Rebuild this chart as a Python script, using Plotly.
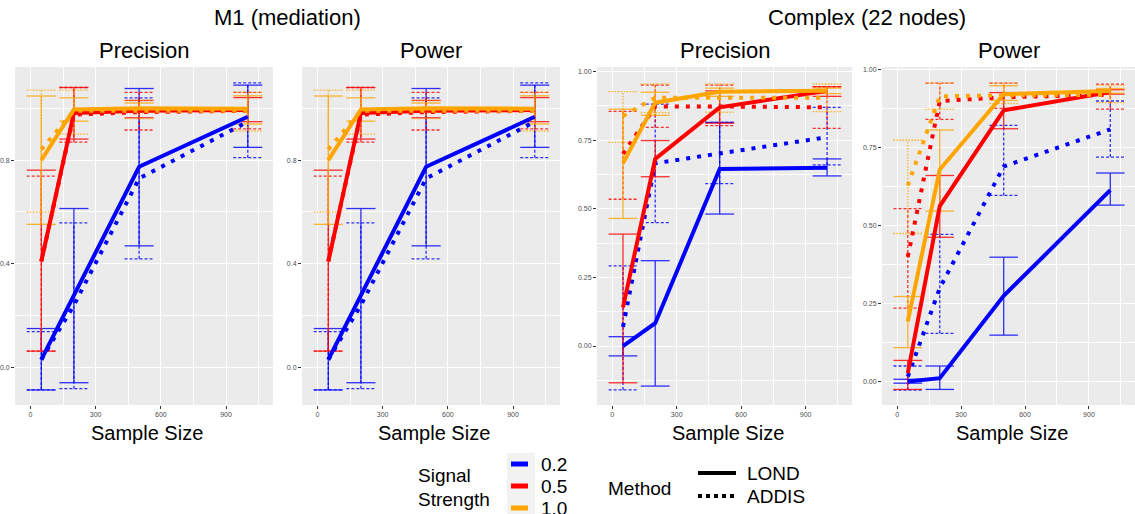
import plotly.graph_objects as go

# ---------------- data ----------------
X = [50, 200, 500, 1000]
STRENGTHS = ["0.2", "0.5", "1.0"]
COLORS = ["#0000FF", "#FF0000", "#FFA500"]
METHODS = ["LOND", "ADDIS"]
GROUP_TITLES = ["M1 (mediation)", "Complex (22 nodes)"]
PANEL_TITLES = ["Precision", "Power", "Precision", "Power"]
X_TITLE = "Sample Size"

# M1 (mediation) - Precision ; rows = signal strength 0.2, 0.5, 1.0
m1_prec_lond_mean = [[0.03, 0.28, 0.774, 0.967], [0.408, 0.982, 0.99, 0.993], [0.80, 0.995, 1.0, 0.998]]
m1_prec_lond_lo = [[-0.087, -0.059, 0.469, 0.849], [0.063, 0.881, 0.963, 0.948], [0.552, 0.95, 0.985, 0.939]]
m1_prec_lond_hi = [[0.15, 0.613, 1.076, 1.089], [0.761, 1.08, 1.03, 1.041], [1.047, 1.04, 1.02, 1.048]]
m1_prec_addis_mean = [[0.03, 0.24, 0.729, 0.948], [0.41, 0.975, 0.985, 0.99], [0.841, 0.99, 0.99, 0.99]]
m1_prec_addis_lo = [[-0.087, -0.082, 0.419, 0.809], [0.063, 0.869, 0.916, 0.92], [0.60, 0.90, 0.96, 0.912]]
m1_prec_addis_hi = [[0.138, 0.558, 1.04, 1.098], [0.738, 1.08, 1.061, 1.061], [1.07, 1.07, 1.03, 1.061]]

# M1 (mediation) - Power
m1_pow_lond_mean = [[0.03, 0.28, 0.774, 0.967], [0.408, 0.982, 0.99, 0.993], [0.80, 0.995, 1.0, 0.998]]
m1_pow_lond_lo = [[-0.087, -0.059, 0.469, 0.849], [0.063, 0.881, 0.963, 0.948], [0.552, 0.95, 0.985, 0.939]]
m1_pow_lond_hi = [[0.15, 0.613, 1.076, 1.089], [0.761, 1.08, 1.03, 1.041], [1.047, 1.04, 1.02, 1.048]]
m1_pow_addis_mean = [[0.03, 0.24, 0.729, 0.948], [0.41, 0.975, 0.985, 0.99], [0.841, 0.99, 0.99, 0.99]]
m1_pow_addis_lo = [[-0.087, -0.082, 0.419, 0.809], [0.063, 0.869, 0.916, 0.92], [0.60, 0.90, 0.96, 0.912]]
m1_pow_addis_hi = [[0.138, 0.558, 1.04, 1.098], [0.738, 1.08, 1.061, 1.061], [1.07, 1.07, 1.03, 1.061]]

# Complex (22 nodes) - Precision
cx_prec_lond_mean = [[0.0, 0.083, 0.645, 0.65], [0.141, 0.682, 0.87, 0.93], [0.666, 0.887, 0.927, 0.93]]
cx_prec_lond_lo = [[-0.036, -0.146, 0.481, 0.62], [-0.134, 0.617, 0.812, 0.91], [0.465, 0.841, 0.91, 0.92]]
cx_prec_lond_hi = [[0.034, 0.311, 0.815, 0.682], [0.408, 0.749, 0.93, 0.945], [0.863, 0.925, 0.94, 0.94]]
cx_prec_addis_mean = [[0.07, 0.666, 0.702, 0.761], [0.70, 0.873, 0.873, 0.87], [0.838, 0.905, 0.905, 0.905]]
cx_prec_addis_lo = [[-0.16, 0.45, 0.592, 0.66], [0.535, 0.797, 0.803, 0.793], [0.742, 0.851, 0.852, 0.854]]
cx_prec_addis_hi = [[0.292, 0.882, 0.815, 0.87], [0.855, 0.951, 0.951, 0.945], [0.927, 0.955, 0.955, 0.955]]

# Complex (22 nodes) - Power
cx_pow_lond_mean = [[0.0, 0.011, 0.275, 0.614], [0.027, 0.563, 0.87, 0.929], [0.193, 0.68, 0.922, 0.932]]
cx_pow_lond_lo = [[-0.005, -0.025, 0.149, 0.566], [-0.025, 0.463, 0.811, 0.922], [0.109, 0.547, 0.902, 0.925]]
cx_pow_lond_hi = [[0.0075, 0.05, 0.399, 0.669], [0.068, 0.661, 0.927, 0.936], [0.273, 0.807, 0.949, 0.94]]
cx_pow_addis_mean = [[0.016, 0.30, 0.69, 0.809], [0.40, 0.90, 0.912, 0.92], [0.629, 0.915, 0.918, 0.92]]
cx_pow_addis_lo = [[-0.027, 0.155, 0.597, 0.72], [0.236, 0.841, 0.876, 0.874], [0.475, 0.874, 0.892, 0.895]]
cx_pow_addis_hi = [[0.05, 0.472, 0.822, 0.90], [0.555, 0.957, 0.957, 0.954], [0.774, 0.957, 0.957, 0.95]]

PANELS = [
    (m1_prec_lond_mean, m1_prec_lond_lo, m1_prec_lond_hi, m1_prec_addis_mean, m1_prec_addis_lo, m1_prec_addis_hi),
    (m1_pow_lond_mean, m1_pow_lond_lo, m1_pow_lond_hi, m1_pow_addis_mean, m1_pow_addis_lo, m1_pow_addis_hi),
    (cx_prec_lond_mean, cx_prec_lond_lo, cx_prec_lond_hi, cx_prec_addis_mean, cx_prec_addis_lo, cx_prec_addis_hi),
    (cx_pow_lond_mean, cx_pow_lond_lo, cx_pow_lond_hi, cx_pow_addis_mean, cx_pow_addis_lo, cx_pow_addis_hi),
]

# ---------------- layout geometry ----------------
W, H = 1135, 514
PX_X = [(15, 273), (302, 560), (597, 852), (882, 1135)]
PX_Y = (67, 405)
Y_RANGES = [(-0.145, 1.159), (-0.145, 1.159), (-0.215, 1.017), (-0.075, 1.009)]
X_RANGE = (-71, 1116)
Y_DTICK = [0.4, 0.4, 0.25, 0.25]
Y_FMT = [".1f", ".1f", ".2f", ".2f"]
CAP = 67  # half-width of error bar caps (data units)

FONT = "Liberation Sans, Arial, sans-serif"

fig = go.Figure()


def errbar_xy(xs, lo, hi):
    ex, ey = [], []
    for x, l, h in zip(xs, lo, hi):
        ex += [x, x, None, x - CAP, x + CAP, None, x - CAP, x + CAP, None]
        ey += [l, h, None, l, l, None, h, h, None]
    return ex, ey


for p, data in enumerate(PANELS):
    lm, ll, lh, am, al, ah = data
    xa = "x" if p == 0 else f"x{p+1}"
    ya = "y" if p == 0 else f"y{p+1}"
    # error bars
    for s in range(3):
        ex, ey = errbar_xy(X, al[s], ah[s])
        dash = "1.5px,1.5px" if s == 2 else "3px,2px"
        fig.add_trace(go.Scatter(x=ex, y=ey, mode="lines", xaxis=xa, yaxis=ya,
                                 line=dict(color=COLORS[s], width=1.3, dash=dash),
                                 opacity=0.8, showlegend=False, hoverinfo="skip"))
        ex, ey = errbar_xy(X, ll[s], lh[s])
        fig.add_trace(go.Scatter(x=ex, y=ey, mode="lines", xaxis=xa, yaxis=ya,
                                 line=dict(color=COLORS[s], width=1.3),
                                 opacity=0.8, showlegend=False, hoverinfo="skip"))
    # lines
    for s in range(3):
        fig.add_trace(go.Scatter(x=X, y=am[s], mode="lines", xaxis=xa, yaxis=ya,
                                 line=dict(color=COLORS[s], width=4, dash="4px,7px"),
                                 showlegend=False, name=f"{STRENGTHS[s]} ADDIS"))
        fig.add_trace(go.Scatter(x=X, y=lm[s], mode="lines", xaxis=xa, yaxis=ya,
                                 line=dict(color=COLORS[s], width=4),
                                 showlegend=False, name=f"{STRENGTHS[s]} LOND"))

layout = dict(
    width=W, height=H,
    margin=dict(l=0, r=0, t=0, b=0),
    paper_bgcolor="white",
    plot_bgcolor="#EBEBEB",
    font=dict(family=FONT, color="black"),
    showlegend=False,
)

for p in range(4):
    xk = "xaxis" if p == 0 else f"xaxis{p+1}"
    yk = "yaxis" if p == 0 else f"yaxis{p+1}"
    x0, x1 = PX_X[p]
    dom_x = [x0 / W, x1 / W]
    dom_y = [1 - PX_Y[1] / H, 1 - PX_Y[0] / H]
    ya = "y" if p == 0 else f"y{p+1}"
    xa = "x" if p == 0 else f"x{p+1}"
    layout[xk] = dict(domain=dom_x, anchor=ya, range=list(X_RANGE), tick0=0, dtick=300,
                      showgrid=True, gridcolor="white", gridwidth=1.1, zeroline=False,
                      ticks="outside", ticklen=3, tickcolor="#333333", tickwidth=1,
                      tickfont=dict(size=7, color="#4D4D4D"), showline=False,
                      minor=dict(dtick=150, tick0=0, showgrid=True, gridcolor="white", gridwidth=0.6, ticks=""))
    layout[yk] = dict(domain=dom_y, anchor=xa, range=list(Y_RANGES[p]), tick0=0, dtick=Y_DTICK[p],
                      tickformat=Y_FMT[p],
                      showgrid=True, gridcolor="white", gridwidth=1.1, zeroline=False,
                      ticks="outside", ticklen=3, tickcolor="#333333", tickwidth=1,
                      tickfont=dict(size=7, color="#4D4D4D"), showline=False,
                      minor=dict(dtick=Y_DTICK[p] / 2, tick0=0, showgrid=True, gridcolor="white", gridwidth=0.6, ticks=""))

fig.update_layout(**layout)

ann = []


def add_text(text, px, py, size, xanchor="center", yanchor="middle"):
    ann.append(dict(text=text, x=px / W, y=1 - py / H, xref="paper", yref="paper",
                    showarrow=False, xanchor=xanchor, yanchor=yanchor,
                    font=dict(size=size, family=FONT, color="black")))


add_text(GROUP_TITLES[0], 287, 18, 22)
add_text(GROUP_TITLES[1], 867, 18, 22)
for p in range(4):
    cx = (PX_X[p][0] + PX_X[p][1]) / 2
    add_text(PANEL_TITLES[p], cx, 51, 22)
    add_text(X_TITLE, cx + 3, 433, 20)

# legend: Signal Strength
add_text("Signal", 416, 475, 19, xanchor="left")
add_text("Strength", 416, 499, 19, xanchor="left")
shapes = [dict(type="rect", xref="paper", yref="paper", x0=507 / W, x1=535 / W, y0=-0.05, y1=1 - 453 / H,
               fillcolor="#F2F2F2", line=dict(width=0), layer="above")]
key_y = [464, 486, 508]
for s in range(3):
    shapes.append(dict(type="line", xref="paper", yref="paper", x0=511 / W, x1=528 / W,
                       y0=1 - key_y[s] / H, y1=1 - key_y[s] / H,
                       line=dict(color=COLORS[s], width=5), layer="above"))
    add_text(STRENGTHS[s], 539, key_y[s], 19, xanchor="left")

# legend: Method
add_text("Method", 606, 488, 19, xanchor="left")
shapes.append(dict(type="line", xref="paper", yref="paper", x0=698 / W, x1=736 / W,
                   y0=1 - 473 / H, y1=1 - 473 / H, line=dict(color="black", width=4), layer="above"))
shapes.append(dict(type="line", xref="paper", yref="paper", x0=698 / W, x1=736 / W,
                   y0=1 - 496 / H, y1=1 - 496 / H, line=dict(color="black", width=4, dash="4px,4px"), layer="above"))
add_text(METHODS[0], 745, 473, 19, xanchor="left")
add_text(METHODS[1], 745, 496, 19, xanchor="left")

fig.update_layout(annotations=ann, shapes=shapes)
fig.write_html("out.html")
